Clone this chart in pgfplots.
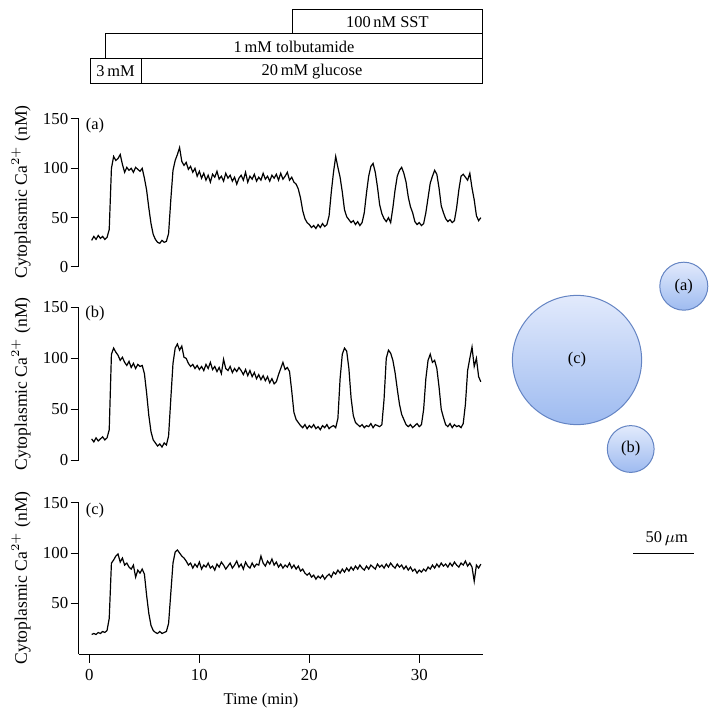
\documentclass[border=0pt]{standalone}
\usepackage{fontspec}
\setmainfont{Liberation Serif}
\usepackage{pgfplots}
\usepackage{pgfplotstable}
\pgfplotsset{compat=1.18}

\definecolor{cellTop}{RGB}{226,234,252}
\definecolor{cellBot}{RGB}{158,187,240}
\definecolor{cellEdge}{RGB}{100,132,195}

% time (min), cytoplasmic Ca2+ (nM) of cells (a), (b), (c)
\pgfplotstableread{
t a b c
0.2 27 21 19
0.4 31 18 20
0.6 28 22 19
0.8 32 19 21
1.0 29 21 20
1.2 31 23 22
1.4 28 20 21
1.6 30 22 23
1.8 38 30 35
2.0 100 104 90
2.2 112 110 93
2.4 108 106 97
2.6 110 103 99
2.8 114 98 91
3.0 104 101 95
3.2 96 96 88
3.4 101 93 90
3.6 98 97 86
3.8 100 91 84
4.0 96 95 88
4.2 101 90 76
4.4 99 94 83
4.6 97 92 80
4.8 100 93 84
5.0 90 85 79
5.2 78 66 58
5.4 60 44 40
5.6 44 28 28
5.8 33 20 23
6.0 28 17 21
6.2 25 14 20
6.4 24 16 22
6.6 27 13 20
6.8 25 17 21
7.0 26 15 22
7.2 34 24 30
7.4 68 60 60
7.6 98 95 90
7.8 108 110 101
8.0 114 114 103
8.2 121 108 100
8.4 107 112 97
8.6 103 101 95
8.8 106 100 92
9.0 99 95 88
9.2 102 92 90
9.4 96 94 85
9.6 100 90 89
9.8 92 93 86
10.0 97 89 91
10.2 90 92 84
10.4 95 88 88
10.6 88 94 86
10.8 93 90 90
11.0 86 96 85
11.2 94 89 87
11.4 91 92 83
11.6 97 87 89
11.8 89 91 86
12.0 92 85 91
12.2 87 99 88
12.4 95 90 84
12.6 90 88 87
12.8 93 92 90
13.0 87 86 85
13.2 91 90 88
13.4 84 87 92
13.6 90 91 86
13.8 93 88 89
14.0 88 84 84
14.2 96 89 91
14.4 86 83 87
14.6 92 88 85
14.8 89 82 90
15.0 94 86 86
15.2 87 80 89
15.4 91 84 88
15.6 88 79 97
15.8 95 83 90
16.0 89 78 87
16.2 92 82 92
16.4 87 76 89
16.6 93 80 94
16.8 90 75 88
17.0 94 77 91
17.2 88 84 86
17.4 95 90 89
17.6 89 96 85
17.8 92 89 88
18.0 96 91 86
18.2 88 87 90
18.4 91 68 85
18.6 86 47 88
18.8 84 40 84
19.0 79 37 87
19.2 70 34 82
19.4 57 32 84
19.6 49 35 80
19.8 45 31 78
20.0 43 34 80
20.2 40 32 76
20.4 42 35 78
20.6 39 31 74
20.8 43 33 77
21.0 40 30 75
21.2 44 34 78
21.4 41 32 74
21.6 43 35 77
21.8 52 31 79
22.0 76 33 76
22.2 96 34 81
22.4 112 32 79
22.6 101 41 83
22.8 91 80 80
23.0 76 104 84
23.2 58 110 81
23.4 51 107 85
23.6 48 90 82
23.8 45 61 86
24.0 47 44 83
24.2 43 37 87
24.4 46 35 84
24.6 42 33 88
24.8 45 35 85
25.0 55 32 83
25.2 75 34 87
25.4 92 33 84
25.6 102 36 88
25.8 105 32 86
26.0 96 35 84
26.2 81 34 89
26.4 63 33 86
26.6 54 35 88
26.8 49 60 85
27.0 46 100 89
27.2 50 108 86
27.4 45 105 90
27.6 60 98 87
27.8 78 86 85
28.0 92 70 89
28.2 98 55 86
28.4 101 45 88
28.6 95 40 84
28.8 86 35 87
29.0 71 33 83
29.2 61 35 86
29.4 55 32 82
29.6 46 34 84
29.8 43 36 80
30.0 45 33 83
30.2 42 35 81
30.4 44 50 84
30.6 55 80 82
30.8 70 98 86
31.0 85 104 84
31.2 92 96 88
31.4 98 98 85
31.6 94 90 89
31.8 80 72 86
32.0 62 50 90
32.2 55 42 87
32.4 49 35 89
32.6 46 33 86
32.8 48 36 90
33.0 45 32 87
33.2 47 35 91
33.4 60 33 88
33.6 78 34 86
33.8 92 32 90
34.0 94 36 88
34.2 91 55 92
34.4 88 88 87
34.6 95 100 90
34.8 80 111 86
35.0 68 92 72
35.2 52 100 88
35.4 47 82 85
35.6 50 77 89
}\cadata

\pgfplotsset{
  capanel/.style={
    scale only axis, width=202pt,
    xmin=-0.95, xmax=35.8,
    ymin=0, ymax=150,
    axis y line*=left,
    axis line style={line width=0.5pt,-},
    tick align=outside,
    major tick length=4.2pt,
    tick style={line width=0.5pt,black},
    ytick={0,50,100,150},
    tick label style={font=\fontsize{8.4}{9}\selectfont},
    yticklabel style={inner sep=1pt},
    /pgf/number format/assume math mode=true,
  },
  trace/.style={black, line width=0.6pt, no markers},
}

\begin{document}
\begin{tikzpicture}[x=0.5pt,y=-0.5pt,font=\fontsize{8.2}{9.6}\selectfont]
\useasboundingbox (0,0) rectangle (719,721);

% treatment bars
\draw[line width=0.5pt] (292,10) rectangle (482.7,34);
\draw[line width=0.5pt] (105.3,34) rectangle (482.7,59);
\draw[line width=0.5pt] (90,59) rectangle (141.3,83.3);
\draw[line width=0.5pt] (141.3,59) rectangle (482.7,83.3);
\node at (387.4,22) {100\,nM SST};
\node at (294,46.5) {1\,mM tolbutamide};
\node at (115.6,71.2) {3\,mM};
\node at (312,71.2) {20\,mM glucose};

% panel (a)
\begin{axis}[capanel, at={(39.5pt,-133.5pt)}, anchor=south west,
  height=74pt, axis x line=none, xtick=\empty]
\addplot[trace] table[x=t,y=a]{\cadata};
\end{axis}
% panel (b)
\begin{axis}[capanel, at={(39.5pt,-230.15pt)}, anchor=south west,
  height=76.5pt, axis x line=none, xtick=\empty]
\addplot[trace] table[x=t,y=b]{\cadata};
\end{axis}
% panel (c)
\begin{axis}[capanel, at={(39.5pt,-327.15pt)}, anchor=south west,
  height=75.8pt, ymin=-0.7, axis x line*=bottom,
  xtick={0,10,20,30}, ytick={50,100,150}]
\addplot[trace] table[x=t,y=c]{\cadata};
\end{axis}

\node at (95,126) {(a)};
\node at (95,314) {(b)};
\node at (95,511) {(c)};
\begin{scope}[font=\fontsize{8.8}{10}\selectfont]
\node[rotate=90] at (21,192) {Cytoplasmic Ca$^{2+}$ (nM)};
\node[rotate=90] at (21,384) {Cytoplasmic Ca$^{2+}$ (nM)};
\node[rotate=90] at (21,578) {Cytoplasmic Ca$^{2+}$ (nM)};
\end{scope}
\node at (261,701) {Time (min)};

% cells
\shadedraw[top color=cellTop, bottom color=cellBot, draw=cellEdge, line width=0.5pt] (683.8,286.2) circle (12pt);
\shadedraw[top color=cellTop, bottom color=cellBot, draw=cellEdge, line width=0.5pt] (577,360) circle (32.3pt);
\shadedraw[top color=cellTop, bottom color=cellBot, draw=cellEdge, line width=0.5pt] (630.7,449) circle (11.7pt);
\node at (683.8,286.2) {(a)};
\node at (577,360) {(c)};
\node at (630.7,449) {(b)};
\draw[line width=0.5pt] (633.3,553.3) -- (694.3,553.3);
\node at (666.7,538.3) {50\,$\mu$m};
\end{tikzpicture}
\end{document}
